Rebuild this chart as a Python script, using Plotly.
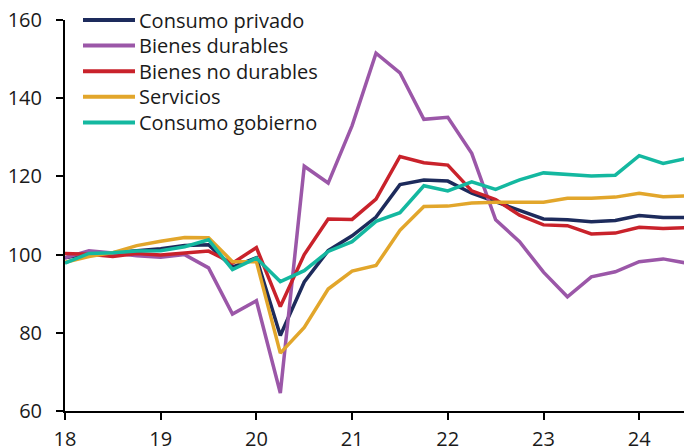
import plotly.graph_objects as go

# Quarterly periods (year as two digits, fractional quarter)
periods = [18 + 0.25 * i for i in range(27)]

names = ["Consumo privado", "Bienes durables", "Bienes no durables", "Servicios", "Consumo gobierno"]

consumo_privado = [99.2, 100.3, 100.5, 101.0, 101.5, 102.3, 102.5, 96.8, 99.2, 79.3, 93.0, 101.0,
                   104.8, 109.6, 117.9, 119.1, 118.8, 115.7, 113.4, 111.3, 109.1, 108.9, 108.4,
                   108.7, 110.0, 109.5, 109.5]
bienes_durables = [99.2, 101.0, 100.4, 99.7, 99.3, 100.0, 96.6, 84.8, 88.2, 64.6, 122.6, 118.3,
                   133.0, 151.5, 146.5, 134.6, 135.1, 125.9, 108.9, 103.3, 95.5, 89.2, 94.3,
                   95.6, 98.2, 98.9, 97.8]
bienes_no_durables = [100.3, 100.1, 99.5, 100.3, 99.9, 100.5, 100.9, 97.8, 101.8, 86.7, 100.0, 109.1,
                      109.0, 114.2, 125.1, 123.5, 122.9, 116.3, 114.1, 110.1, 107.6, 107.4, 105.3,
                      105.5, 107.0, 106.7, 106.9]
servicios = [98.0, 99.5, 100.5, 102.3, 103.4, 104.4, 104.3, 98.2, 98.2, 74.8, 81.4, 91.2,
             95.8, 97.2, 106.2, 112.3, 112.4, 113.2, 113.4, 113.4, 113.4, 114.4, 114.4,
             114.7, 115.7, 114.8, 115.0]
consumo_gobierno = [97.8, 100.3, 100.5, 100.9, 101.0, 102.0, 103.8, 96.2, 99.1, 93.1, 95.9, 100.8,
                    103.3, 108.5, 110.7, 117.6, 116.3, 118.6, 116.7, 119.1, 120.9, 120.5, 120.1,
                    120.3, 125.3, 123.3, 124.6]

series = [consumo_privado, bienes_durables, bienes_no_durables, servicios, consumo_gobierno]
colors = ["#1d2b5c", "#9b57a8", "#c9222b", "#e2a62b", "#14b8a0"]

x_ticks = [18, 19, 20, 21, 22, 23, 24]
x_tick_labels = ["18", "19", "20", "21", "22", "23", "24"]
y_ticks = [60, 80, 100, 120, 140, 160]

FONT = "Open Sans, Noto Sans, DejaVu Sans, sans-serif"
TXT = "#1a1a1a"

fig = go.Figure()
for name, vals, col in zip(names, series, colors):
    fig.add_trace(go.Scatter(x=periods, y=vals, mode="lines", name=name,
                             line=dict(color=col, width=3.5), showlegend=False))

# Plot area in pixels
W, H = 684, 448
L, R, T, B = 65, 0, 20, 37
pw, ph = W - L - R, H - T - B

def px_x(px):
    return (px - L) / pw

def px_y(py):
    return (H - B - py) / ph

# Manual legend
for k, (name, col) in enumerate(zip(names, colors)):
    yy = 20 + 25.6 * k
    fig.add_shape(type="line", xref="paper", yref="paper",
                  x0=px_x(83), x1=px_x(135), y0=px_y(yy), y1=px_y(yy),
                  line=dict(color=col, width=4))
    fig.add_annotation(xref="paper", yref="paper", x=px_x(137), y=px_y(yy),
                       text=name, showarrow=False, xanchor="left", yanchor="middle",
                       font=dict(family=FONT, size=20, color=TXT))

fig.update_layout(
    width=W, height=H,
    margin=dict(l=L, r=R, t=T, b=B, autoexpand=False),
    paper_bgcolor="white", plot_bgcolor="white",
    font=dict(family=FONT, size=20, color=TXT),
    xaxis=dict(range=[18, 18 + (684 - 65) / 95.7], tickvals=x_ticks, ticktext=x_tick_labels,
               showgrid=False, zeroline=False, showline=True, linecolor="black", linewidth=2,
               ticks="outside", ticklen=7, tickwidth=2, tickcolor="black",
               ticklabelstandoff=2, automargin=False),
    yaxis=dict(range=[60, 160], tickvals=y_ticks, showgrid=False, zeroline=False,
               showline=True, linecolor="black", linewidth=2,
               ticks="outside", ticklen=7, tickwidth=2, tickcolor="black",
               ticklabelstandoff=10, automargin=False),
)

fig.write_html("out.html", config={"displayModeBar": False},
               post_script="document.body.style.margin='0';document.body.style.overflow='hidden';")
